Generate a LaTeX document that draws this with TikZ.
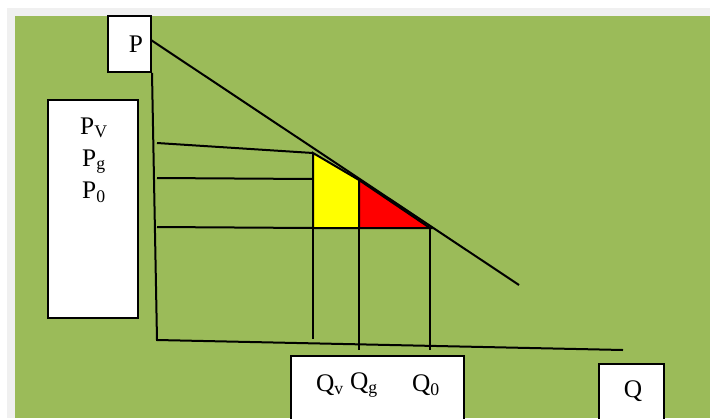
\documentclass[tikz,border=0pt]{standalone}
\usepackage{fontspec}
\setmainfont{Liberation Serif}
\definecolor{bgwhite}{HTML}{FFFFFF}
\definecolor{bggray}{HTML}{F0F0F0}
\definecolor{olive}{HTML}{9BBB59}
\definecolor{yel}{HTML}{FFFF00}
\definecolor{rd}{HTML}{FF0000}
\begin{document}
\begin{tikzpicture}[x=0.75pt,y=-0.75pt,
  box/.style={draw=black, fill=white, line width=1.5pt, inner sep=0pt},
  lbl/.style={font=\fontsize{19}{24}\selectfont, inner sep=0pt},
  ln/.style={draw=black, line width=1.5pt, line join=miter},
  area/.style={draw=black, line width=1.5pt, line join=miter}]
\useasboundingbox (0,0) rectangle (710,418);
\fill[bgwhite] (0,0) rectangle (710,418);
\fill[bggray] (7,8) rectangle (710,418);
\fill[olive] (15,16) rectangle (710,418);

% boxes
\node[box, minimum width=32.25pt, minimum height=42pt] (pb) at (129.5,44) {};
\node[lbl] (pt) at (136,44) {P};
\node[box, minimum width=67.5pt, minimum height=163.5pt] (prb) at (93,209) {};
\node[lbl, align=center] (prt) at (94,160) {P\textsubscript{V}\\P\textsubscript{g}\\P\textsubscript{0}};
\node[box, minimum width=129.75pt, minimum height=60pt] (qb) at (377.5,396) {};
\node[lbl] (qv) at (330,385) {Q\textsubscript{v}};
\node[lbl] (qg) at (364,385) {Q\textsubscript{g}};
\node[lbl] (q0) at (426,385) {Q\textsubscript{0}};
\node[box, minimum width=48.75pt, minimum height=57pt] (qrb) at (631.5,402) {};
\node[lbl] (qr) at (633,391) {Q};

% coordinates
\coordinate (ds) at (151,40);
\coordinate (de) at (519,285);
\coordinate (o) at (157,340);
\coordinate (xe) at (623,350);
\coordinate (y1) at (313,153);
\coordinate (y2) at (359,180);
\coordinate (y3) at (359,228);
\coordinate (y4) at (313,228);
\coordinate (yl) at (313,179);
\coordinate (r3) at (430,228);
\coordinate (a1) at (157,143);
\coordinate (a2) at (157,178);
\coordinate (a3) at (157,227);
\coordinate (b1) at (313,339);
\coordinate (b2) at (359,350);
\coordinate (b3) at (430,350);

% areas
\draw[area, fill=yel] (y1) -- (y2) -- (y3) -- (y4) -- cycle;
\draw[area, fill=rd] (y2) -- (r3) -- (y3) -- cycle;

% axes and demand
\draw[ln] (pb.south east) -- (o) -- (xe);
\draw[ln] (ds) -- (de);

% guide lines
\draw[ln] (a1) -- (y1);
\draw[ln] (a2) -- (yl);
\draw[ln] (a3) -- (y4);
\draw[ln] (y4) -- (b1);
\draw[ln] (y3) -- (b2);
\draw[ln] (r3) -- (b3);
\end{tikzpicture}
\end{document}
